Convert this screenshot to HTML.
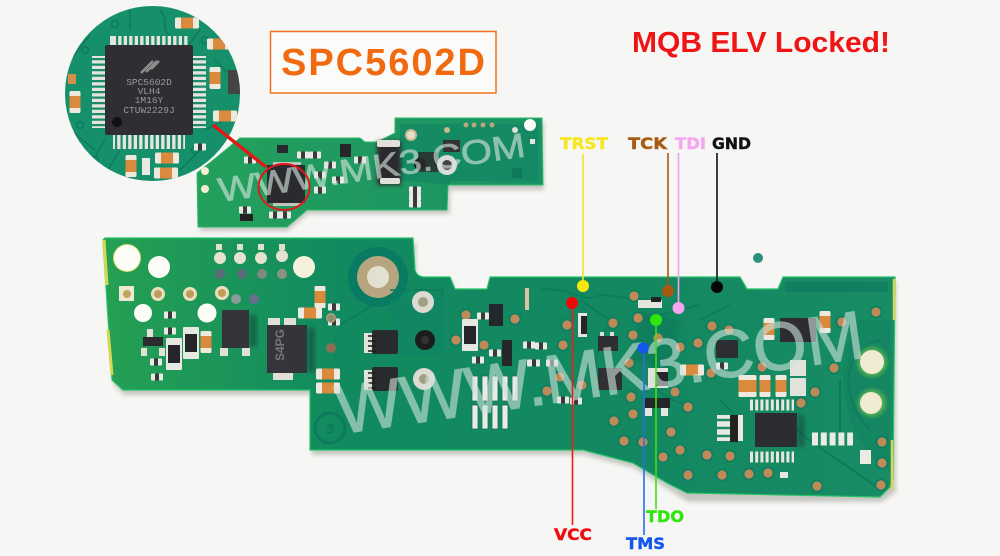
<!DOCTYPE html>
<html><head><meta charset="utf-8"><title>SPC5602D MQB ELV</title>
<style>html,body{margin:0;padding:0;background:#f6f6f4}svg{display:block}</style></head>
<body>
<svg xmlns="http://www.w3.org/2000/svg" width="1000" height="556" viewBox="0 0 1000 556">
<defs>
<linearGradient id="bg" x1="0" x2="1" y1="0" y2="0"><stop offset="0" stop-color="#25a053"/><stop offset=".3" stop-color="#118a60"/><stop offset=".7" stop-color="#138861"/><stop offset="1" stop-color="#188c64"/></linearGradient>
<linearGradient id="sg" x1="0" x2="1" y1="0" y2="0"><stop offset="0" stop-color="#23a05c"/><stop offset="1" stop-color="#1a9165"/></linearGradient>
<filter id="b1" x="-20%" y="-20%" width="140%" height="140%"><feGaussianBlur stdDeviation="2"/></filter>
<clipPath id="mag"><circle cx="152.500" cy="93.500" r="87.500"/></clipPath>
<g id="p"><circle r="6.500" fill="#0f7f62"/><circle r="4.600" fill="#c08a58"/></g>
<g id="v"><circle r="3.400" fill="none" stroke="#0c7a5c" stroke-width="1.500"/></g>
<g id="cap"><rect x="-12" y="-5.500" width="24" height="11" rx="1.500" fill="#eee8dd"/><rect x="-6" y="-5.500" width="12" height="11" fill="#d98a3c"/></g>
<g id="capv"><rect x="-5.500" y="-11" width="11" height="22" rx="1.500" fill="#eee8dd"/><rect x="-5.500" y="-6" width="11" height="12" fill="#d98a3c"/></g>
<g id="res"><rect x="-8" y="-16" width="16" height="32" rx="1" fill="#e8e8e2"/><rect x="-6" y="-9" width="12" height="18" fill="#26262a"/></g>
<g id="sm"><rect x="-6" y="-3.500" width="12" height="7" rx="1" fill="#e8eae6"/><rect x="-2" y="-3.500" width="4" height="7" fill="#3a3a3a"/></g>
</defs>

<rect width="1000" height="556" fill="#f6f6f4"/>

<!-- shadow for boards -->
<path d="M105 243H416V281H452L456 293H488L492 281H742L748 293H778L784 281H896V492L882 502H688L634 468L584 455H312V395H124L114 385Z" fill="#8d8d85" opacity=".45" filter="url(#b1)"/>
<path d="M200 176L240 142H362L366 146H378L397 137V122H544V190H450V214H308L288 231H200Z" fill="#8d8d85" opacity=".45" filter="url(#b1)"/>

<!-- small board -->
<path d="M197 173L217 157L240 138H360L365 142H377L395 133V118H542L543 185H448L447 210H307L287 227H198Z" fill="url(#sg)" stroke="#2dbb68" stroke-width="1"/>
<path d="M400 124H538V181H450V185L400 180Z" fill="#0e8264" opacity=".55"/>
<g>
<circle cx="411" cy="135" r="6" fill="#c9b88e"/><circle cx="411" cy="135" r="4" fill="#e4dfcc"/>
<circle cx="530" cy="125" r="6" fill="#fbfbf6"/>
<circle cx="447" cy="130" r="3" fill="#c8b98a"/><circle cx="466" cy="125" r="2.500" fill="#bda67a"/><circle cx="474" cy="125" r="2.500" fill="#bda67a"/><circle cx="483" cy="125" r="2.500" fill="#bda67a"/><circle cx="492" cy="125" r="2.500" fill="#bda67a"/>
<circle cx="515" cy="130" r="3" fill="#dfe2d6"/>
<rect x="530" y="139" width="5" height="5" fill="#e6e6da"/>
<circle cx="205" cy="171" r="4" fill="#f2eecf"/><circle cx="205" cy="189" r="4" fill="#f2eecf"/>
<rect x="377" y="141" width="24" height="44" fill="#2c2c2e" filter="url(#b1)"/>
<rect x="377" y="140" width="23" height="7" rx="2" fill="#e2e0d8"/><rect x="380" y="178" width="20" height="6" rx="2" fill="#e2e0d8"/>
<rect x="340" y="144" width="11" height="13" fill="#25272b"/>
<rect x="277" y="145" width="11" height="8" fill="#2a2a2e"/>
<circle cx="420" cy="164" r="6" fill="#111"/><rect x="418" y="152" width="20" height="20" fill="#2a2b2e" opacity=".85"/>
<circle cx="447" cy="165" r="10" fill="#d9dcd8"/><circle cx="447" cy="165" r="5" fill="#444"/>
<rect x="443" y="140" width="17" height="12" fill="#333"/>
<rect x="512" y="168" width="10" height="10" fill="#0e7a5a"/>
<use href="#sm" x="315" y="155"/><use href="#sm" x="303" y="155"/><use href="#sm" x="330" y="165"/><use href="#sm" x="360" y="160"/><use href="#sm" x="250" y="160"/>
<use href="#sm" x="275" y="215"/><use href="#sm" x="285" y="215"/><use href="#sm" x="245" y="210"/>
<use href="#sm" x="415" y="190"/><use href="#sm" x="415" y="197"/><use href="#sm" x="415" y="204"/>
<use href="#sm" x="320" y="190"/><use href="#sm" x="320" y="175"/><use href="#sm" x="338" y="180"/>
<rect x="240" y="214" width="13" height="7" fill="#222"/>
</g>
<rect x="267" y="165" width="38" height="38" fill="#2b2b2f"/>
<rect x="273" y="162" width="28" height="3" fill="#bfc4bd"/><rect x="273" y="203" width="28" height="3" fill="#bfc4bd"/>

<!-- Watermark small board -->
<text x="220" y="202" transform="rotate(-8.500 220 202)" font-family="'Liberation Sans',sans-serif" font-size="34" fill="#d7e6dd" stroke="#d7e6dd" stroke-width=".7" opacity=".62" textLength="310" lengthAdjust="spacingAndGlyphs">WWW.MK3.COM</text>

<!-- magnifier -->
<circle cx="152.500" cy="93.500" r="87.500" fill="#15906b"/>
<g clip-path="url(#mag)">
<g stroke="#0e7a5c" stroke-width="1.500" fill="none">
<path d="M130 10V30M160 10C170 20 160 30 170 35M200 30L185 50M90 35L70 60M70 130L95 150M205 130L225 120M200 150L180 170M90 165L105 140M215 60L235 80M120 150L105 175"/>
</g>
<use href="#v" x="85" y="50"/><use href="#v" x="115" y="24"/><use href="#v" x="205" y="40"/><use href="#v" x="95" y="160"/><use href="#v" x="195" y="150"/><use href="#v" x="80" y="125"/><use href="#v" x="130" y="172"/>
<use href="#capv" x="75" y="102"/><use href="#capv" x="215" y="78"/><use href="#cap" x="225" y="116"/>
<use href="#cap" x="187" y="23"/><use href="#cap" x="167" y="158"/><use href="#cap" x="166" y="173"/><use href="#capv" x="131" y="166"/><use href="#sm" x="200" y="147"/>
<rect x="142" y="158" width="8" height="17" fill="#e9e9e4"/>
<rect x="228" y="70" width="12" height="24" fill="#444"/>
<use href="#cap" x="219" y="44"/><rect x="68" y="74" width="8" height="10" fill="#d58f4c"/>
</g>
<rect x="110" y="36" width="78" height="9" fill="#e4e5df"/>
<path d="M114 40.500H186" stroke="#1a8a68" stroke-width="9" stroke-dasharray="2.200 3.300" fill="none" transform="translate(2,0)"/>
<rect x="113" y="135" width="72" height="14" fill="#e4e5df"/>
<path d="M113 142H187" stroke="#1a8a68" stroke-width="14" stroke-dasharray="2.200 3.300" fill="none" transform="translate(2,0)"/>
<rect x="92" y="56" width="14" height="72" fill="#e4e5df"/>
<path d="M99 56V128" stroke="#1a8a68" stroke-width="14" stroke-dasharray="2.200 3.300" fill="none" transform="translate(0,2)"/>
<rect x="192" y="56" width="14" height="72" fill="#e4e5df"/>
<path d="M199 56V128" stroke="#1a8a68" stroke-width="14" stroke-dasharray="2.200 3.300" fill="none" transform="translate(0,2)"/>
<rect x="105" y="45" width="88" height="90" rx="2" fill="#2e2e33"/>
<circle cx="117" cy="122" r="5" fill="#111114"/>
<path d="M141 73l12-12M146 72l11-11M151 69l8-8" stroke="#8d8d8c" stroke-width="2.500"/>
<g font-family="'Liberation Mono',monospace" font-size="9.500" fill="#9a9a98" text-anchor="middle">
<text x="149" y="85">SPC5602D</text><text x="149" y="94">VLH4</text><text x="149" y="103">1M16Y</text><text x="149" y="113">CTUW2229J</text>
</g>

<!-- big board -->
<path d="M103 240L105 238H413L415 270Q417 277 425 277H450L455 289H487L490 277H740L747 289H778L783 277H895L893 478L890 487L880 497L687 493L667 483L633 463L583 450H310V390H123L112 380Z" fill="url(#bg)" stroke="#26c267" stroke-width="1.200"/>
<path d="M104 240L107 285M108 330L112 375" stroke="#d8d850" stroke-width="3"/>
<path d="M894 279V320M892 440V490" stroke="#d8d850" stroke-width="2.500"/>
<path d="M785 282H888V292H785Z" fill="#0e7a5e" opacity=".7"/>
<path d="M640 310L680 320L670 370L630 360Z" fill="#0a7459" opacity=".5" filter="url(#b1)"/>
<circle cx="378" cy="277" r="30" fill="#0a7b63"/>
<circle cx="378" cy="277" r="21" fill="#b6a57f"/><circle cx="378" cy="277" r="11" fill="#e2e0cf"/>
<path d="M390 295L340 325M390 290H410M390 345H442V290L413 290" stroke="#0c7a5c" stroke-width="1.500" fill="none"/>
<path d="M390 300L445 295V355H395Z" fill="#108564" opacity=".8"/>
<path d="M780 390C775 430 830 450 880 490M840 380V440M880 340C840 350 840 400 870 430" stroke="#0c7a5c" stroke-width="2" fill="none"/>
<path d="M860 320C830 360 840 440 890 470V320Z" fill="#107f60" opacity=".5"/>
<path d="M540 290C570 285 580 305 600 295L650 300M580 300L610 320C600 345 590 360 600 385M640 320L700 305M700 320L730 305M660 350C640 380 660 400 690 405M720 400L740 420" stroke="#0c7a5c" stroke-width="1.500" fill="none"/>
<g>
<circle cx="127" cy="258" r="14" fill="#d6dc6d"/><circle cx="127" cy="258" r="13" fill="#fdfdf8"/>
<circle cx="159" cy="267" r="11" fill="#fdfdf8"/><circle cx="143" cy="313" r="9" fill="#fdfdf8"/><circle cx="207" cy="313" r="9.500" fill="#fdfdf8"/><circle cx="304" cy="267" r="11" fill="#f4f2dc"/>
<rect x="119" y="286" width="15" height="15" fill="#eee9d2"/><circle cx="127" cy="294" r="4" fill="#c2a45a"/>
<circle cx="158" cy="294" r="7" fill="#eadfbc"/><circle cx="158" cy="294" r="4" fill="#bd9c5c"/>
<circle cx="190" cy="294" r="7" fill="#eadfbc"/><circle cx="190" cy="294" r="4" fill="#bd9c5c"/>
<circle cx="222" cy="293" r="7" fill="#eadfbc"/><circle cx="222" cy="293" r="4" fill="#bd9c5c"/>
<circle cx="220" cy="258" r="6" fill="#e5e3cf"/><circle cx="240" cy="258" r="6" fill="#e5e3cf"/><circle cx="261" cy="258" r="6" fill="#e5e3cf"/><circle cx="282" cy="256" r="6" fill="#e5e3cf"/>
<rect x="216" y="244" width="6" height="6" fill="#dfe0c8"/><rect x="237" y="244" width="6" height="6" fill="#dfe0c8"/><rect x="258" y="244" width="6" height="6" fill="#dfe0c8"/><rect x="279" y="244" width="6" height="6" fill="#dfe0c8"/>
<circle cx="220" cy="274" r="5" fill="#5a6b7a"/><circle cx="242" cy="274" r="5" fill="#5a6b7a"/><circle cx="262" cy="274" r="5" fill="#7d8a7e"/><circle cx="282" cy="274" r="5" fill="#8b9480"/>
<circle cx="236" cy="299" r="5" fill="#8a9c96"/><circle cx="254" cy="299" r="5" fill="#66708a"/>
<rect x="222" y="310" width="27" height="38" fill="#34343a"/><rect x="249" y="315" width="8" height="32" fill="#184a3a" opacity=".6" filter="url(#b1)"/>
<rect x="220" y="348" width="8" height="8" fill="#e0e0d6"/><rect x="242" y="348" width="8" height="8" fill="#e0e0d6"/>
<rect x="267" y="325" width="40" height="48" fill="#34343a"/><rect x="307" y="328" width="8" height="44" fill="#184a3a" opacity=".6" filter="url(#b1)"/>
<rect x="268" y="318" width="12" height="7" fill="#e0e0d6"/><rect x="284" y="318" width="12" height="7" fill="#e0e0d6"/><rect x="273" y="373" width="20" height="7" fill="#e0e0d6"/>
<text x="0" y="0" transform="translate(284,361) rotate(-90)" font-family="'Liberation Sans',sans-serif" font-size="12" fill="#77777c" font-weight="bold">S4PG</text>
<use href="#res" x="191" y="343"/><use href="#res" x="174" y="354"/><use href="#capv" x="206" y="342"/>
<rect x="143" y="337" width="20" height="9" fill="#2c2c30"/><rect x="141" y="348" width="6" height="8" fill="#e2e2d8"/><rect x="159" y="348" width="6" height="8" fill="#e2e2d8"/><rect x="147" y="329" width="6" height="8" fill="#e2e2d8"/>
<use href="#sm" x="170" y="331"/><use href="#sm" x="156" y="362"/><use href="#sm" x="157" y="377"/><use href="#sm" x="170" y="315"/>
<use href="#capv" x="320" y="297"/><use href="#cap" x="310" y="313"/><use href="#sm" x="334" y="307"/><use href="#sm" x="334" y="322"/>
<use href="#cap" x="328" y="374"/><use href="#cap" x="328" y="388"/>
<circle cx="331" cy="318" r="5" fill="#a39f7d"/><circle cx="331" cy="318" r="3" fill="#8b8b6a"/>
<circle cx="331" cy="348" r="5" fill="#8b6f55"/>
<rect x="372" y="330" width="26" height="24" rx="2" fill="#2a2b2e"/><rect x="364" y="333" width="8" height="20" fill="#e3e3da"/>
<path d="M368 336h8M368 341h8M368 346h8M368 351h8" stroke="#1d1d1d" stroke-width="1.500"/>
<rect x="372" y="367" width="26" height="24" rx="2" fill="#2a2b2e"/><rect x="364" y="370" width="8" height="20" fill="#e3e3da"/>
<path d="M368 373h8M368 378h8M368 383h8M368 388h8" stroke="#1d1d1d" stroke-width="1.500"/>
<circle cx="425" cy="340" r="10" fill="#1c1c1c"/><circle cx="425" cy="340" r="4" fill="#333"/>
<circle cx="423" cy="302" r="11" fill="#dcdad2"/><circle cx="423" cy="302" r="5" fill="#a0a080"/>
<circle cx="424" cy="379" r="11" fill="#dcdad2"/><circle cx="424" cy="379" r="5" fill="#a0a080"/>
<use href="#p" x="466" y="315"/><use href="#p" x="456" y="340"/><use href="#p" x="484" y="345"/><use href="#res" x="470" y="335"/>
<rect x="489" y="304" width="14" height="22" fill="#24272b"/><rect x="502" y="340" width="10" height="26" fill="#25272b"/>
<use href="#sm" x="483" y="316"/><use href="#sm" x="478" y="360"/><use href="#sm" x="495" y="353"/><use href="#sm" x="529" y="345"/><use href="#sm" x="533" y="363"/>
<g fill="#e9ebe6" stroke="#1e6b52" stroke-width=".8">
<rect x="472" y="376" width="6" height="25"/><rect x="482" y="376" width="6" height="25"/><rect x="492" y="376" width="6" height="25"/><rect x="502" y="376" width="6" height="25"/><rect x="512" y="376" width="6" height="25"/>
<rect x="472" y="405" width="6" height="24"/><rect x="482" y="405" width="6" height="24"/><rect x="492" y="405" width="6" height="24"/><rect x="502" y="405" width="6" height="24"/>
</g>
<circle cx="330" cy="428" r="15" fill="none" stroke="#0c7a5c" stroke-width="3"/>
<text x="330" y="434" text-anchor="middle" font-family="'Liberation Sans',sans-serif" font-size="15" font-weight="bold" fill="#0c7a5c">3</text>
<rect x="525" y="288" width="4" height="22" fill="#d9c6a0"/>
<use href="#p" x="634" y="296"/><use href="#p" x="638" y="318"/><use href="#p" x="613" y="323"/><use href="#p" x="633" y="335"/><use href="#p" x="658" y="338"/><use href="#p" x="680" y="347"/><use href="#p" x="712" y="326"/><use href="#p" x="729" y="330"/><use href="#p" x="698" y="343"/><use href="#p" x="567" y="325"/><use href="#p" x="563" y="345"/><use href="#p" x="515" y="319"/><use href="#p" x="560" y="377"/><use href="#p" x="582" y="385"/><use href="#p" x="547" y="391"/><use href="#p" x="631" y="397"/><use href="#p" x="675" y="392"/><use href="#p" x="688" y="407"/><use href="#p" x="633" y="414"/><use href="#p" x="614" y="421"/><use href="#p" x="624" y="441"/><use href="#p" x="643" y="442"/><use href="#p" x="671" y="432"/><use href="#p" x="680" y="450"/><use href="#p" x="707" y="455"/><use href="#p" x="730" y="456"/><use href="#p" x="663" y="457"/><use href="#p" x="688" y="475"/><use href="#p" x="722" y="475"/><use href="#p" x="749" y="474"/><use href="#p" x="768" y="473"/><use href="#p" x="817" y="486"/><use href="#p" x="881" y="485"/><use href="#p" x="882" y="463"/><use href="#p" x="882" y="442"/><use href="#p" x="815" y="392"/><use href="#p" x="801" y="403"/><use href="#p" x="834" y="368"/><use href="#p" x="876" y="312"/><use href="#p" x="842" y="322"/><use href="#p" x="762" y="367"/><use href="#p" x="711" y="373"/><use href="#p" x="629" y="363"/>
<rect x="598" y="336" width="20" height="15" fill="#2e2e33"/><rect x="600" y="332" width="4" height="4" fill="#ddd"/><rect x="610" y="332" width="4" height="4" fill="#ddd"/>
<rect x="598" y="368" width="24" height="22" fill="#2f3033"/>
<rect x="578" y="313" width="9" height="24" fill="#e6e6de"/><rect x="581" y="316" width="6" height="18" fill="#26262a"/>
<use href="#sm" x="541" y="346"/><use href="#sm" x="534" y="363"/><use href="#sm" x="552" y="363"/><use href="#sm" x="563" y="400"/><use href="#sm" x="576" y="401"/>
<rect x="638" y="300" width="24" height="8" fill="#e6e6de"/><rect x="651" y="297" width="10" height="5" fill="#222"/>
<rect x="648" y="368" width="20" height="20" fill="#e2e2dc"/><rect x="656" y="372" width="12" height="14" fill="#25262a"/>
<rect x="645" y="398" width="25" height="10" fill="#25262a"/><rect x="645" y="408" width="7" height="8" fill="#e6e6e0"/><rect x="661" y="408" width="7" height="8" fill="#e6e6e0"/>
<use href="#cap" x="692" y="370"/>
<rect x="716" y="340" width="22" height="18" fill="#2d2e33"/><use href="#sm" x="722" y="366"/>
<rect x="780" y="318" width="36" height="24" fill="#2c2c31"/><use href="#capv" x="769" y="329"/><use href="#capv" x="825" y="322"/>
<use href="#capv" x="744" y="386"/><use href="#capv" x="751" y="386"/><use href="#capv" x="765" y="386"/><use href="#capv" x="781" y="386"/><rect x="790" y="378" width="16" height="18" fill="#e2e2dc"/><rect x="790" y="360" width="16" height="16" fill="#e2e2dc"/>
<rect x="755" y="413" width="42" height="34" fill="#2c2d32"/><rect x="797" y="415" width="8" height="32" fill="#184a3a" opacity=".55" filter="url(#b1)"/>
<path d="M750 405H794M750 457H794" stroke="#e7e7e0" stroke-width="11" stroke-dasharray="3 2.200" fill="none"/>
<rect x="717" y="415" width="26" height="26" fill="#e9e9e2"/><path d="M716 420h14M716 428h14M716 436h14" stroke="#1a8a68" stroke-width="2.500"/><rect x="730" y="415" width="8" height="27" fill="#222"/>
<path d="M812 439H853" stroke="#ebebe5" stroke-width="13" stroke-dasharray="6 2.800" fill="none"/>
<rect x="860" y="450" width="11" height="14" fill="#ecebe3"/>
<circle cx="872" cy="362" r="15" fill="#6fbf4f" opacity=".7" filter="url(#b1)"/><circle cx="872" cy="362" r="12" fill="#f0ecd4"/>
<circle cx="872" cy="403" r="14" fill="#6fbf4f" opacity=".7" filter="url(#b1)"/><circle cx="871" cy="403" r="11" fill="#f0ecd4"/>
<rect x="780" y="472" width="8" height="6" fill="#e6e6e0"/>
</g>

<!-- Watermark big board -->
<text x="340" y="434" transform="rotate(-8.300 340 434)" font-family="'Liberation Sans',sans-serif" font-size="68" fill="#cfe4dc" stroke="#cfe4dc" stroke-width="1.200" opacity=".6" textLength="532" lengthAdjust="spacingAndGlyphs">WWW.MK3.COM</text>

<!-- magnify link -->
<ellipse cx="284" cy="187" rx="25.500" ry="23" fill="none" stroke="#e01818" stroke-width="2"/>
<path d="M213 125L266 167" stroke="#e41616" stroke-width="3.400"/>

<!-- title box -->
<rect x="270.500" y="31.500" width="225.500" height="61.500" fill="#fbfbfa" stroke="#f37021" stroke-width="1.500"/>
<text x="281" y="75" font-family="'Liberation Sans',sans-serif" font-weight="bold" font-size="38" fill="#f26a10" textLength="204" lengthAdjust="spacing">SPC5602D</text>
<text x="761" y="52" text-anchor="middle" font-family="'Liberation Sans',sans-serif" font-weight="bold" font-size="29" fill="#f01414" textLength="258" lengthAdjust="spacingAndGlyphs">MQB ELV Locked!</text>

<!-- probe lines -->
<g fill="none" stroke-width="1.600">
<path d="M583 154V286" stroke="#f5e61e"/>
<path d="M668 153V291" stroke="#a85a10"/>
<path d="M678.500 153V308" stroke="#f2a2ee"/>
<path d="M717 153V287" stroke="#111"/>
<path d="M572.500 303V525" stroke="#f01c1c"/>
<path d="M644 348V535" stroke="#2a6cf0"/>
<path d="M656 320V509" stroke="#3ee014"/>
</g>
<circle cx="583" cy="286" r="6" fill="#f8e80f"/>
<circle cx="668" cy="291" r="6" fill="#a85a10"/>
<circle cx="678.500" cy="308" r="6" fill="#f5a6f0"/>
<circle cx="717" cy="287" r="6" fill="#070707"/>
<circle cx="572" cy="303" r="6" fill="#f00808"/>
<circle cx="643" cy="348" r="5.500" fill="#1556ee"/>
<circle cx="656" cy="320" r="6" fill="#2fe60c"/>
<circle cx="758" cy="258" r="5" fill="#2a9079"/>

<!-- labels -->
<g font-family="'DejaVu Sans',sans-serif" font-weight="bold" font-size="16" stroke-width=".4">
<text x="560" y="149" fill="#f5e61e" stroke="#f5e61e" textLength="48" lengthAdjust="spacingAndGlyphs">TRST</text>
<text x="628" y="149" fill="#a85a10" stroke="#a85a10" textLength="39" lengthAdjust="spacingAndGlyphs">TCK</text>
<text x="675" y="149" fill="#f5a6f0" stroke="#f5a6f0" textLength="31" lengthAdjust="spacingAndGlyphs">TDI</text>
<text x="712" y="149" fill="#111" stroke="#111" textLength="39" lengthAdjust="spacingAndGlyphs">GND</text>
<text x="554" y="540" fill="#f00c0c" stroke="#f00c0c" textLength="38" lengthAdjust="spacingAndGlyphs">VCC</text>
<text x="626" y="549" fill="#1556ee" stroke="#1556ee" textLength="39" lengthAdjust="spacingAndGlyphs">TMS</text>
<text x="646" y="522" fill="#2fe60c" stroke="#2fe60c" textLength="38" lengthAdjust="spacingAndGlyphs">TDO</text>
</g>
</svg>
</body></html>
